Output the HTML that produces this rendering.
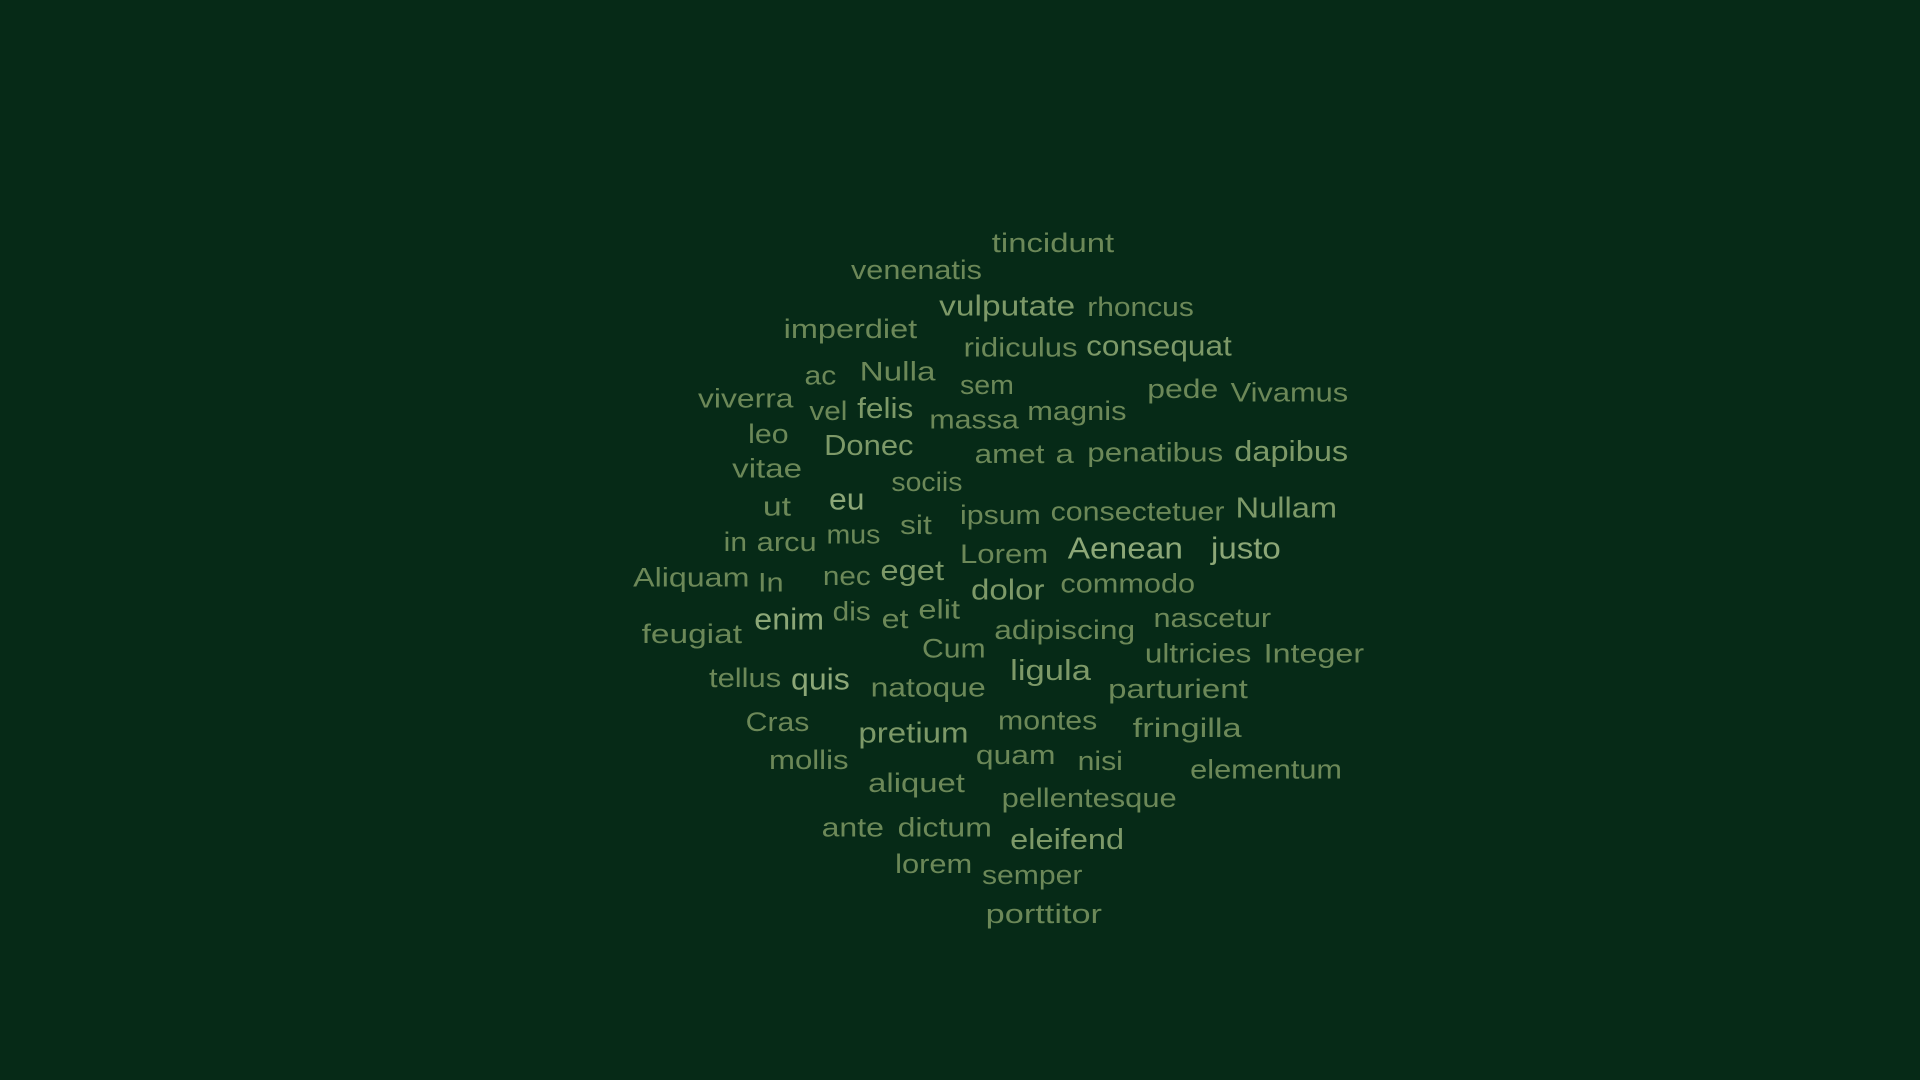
<!DOCTYPE html>
<html><head><meta charset="utf-8"><style>
html,body{margin:0;padding:0;background:#062a17;}
svg{display:block}
text{font-family:"Liberation Sans",sans-serif;}
</style></head><body>
<svg id="cloud" width="1920" height="1080" viewBox="0 0 1920 1080">
<rect width="1920" height="1080" fill="#062a17"/>
<g id="words"></g>
</svg>
<script>
const words=["tincidunt","venenatis","vulputate","rhoncus","imperdiet","ridiculus","consequat","ac","Nulla","sem","pede","Vivamus","viverra","vel","felis","massa","magnis","leo","Donec","amet","a","penatibus","dapibus","vitae","sociis","ut","eu","ipsum","consectetuer","Nullam","in","arcu","mus","sit","Lorem","Aenean","justo","Aliquam","In","nec","eget","dolor","commodo","feugiat","enim","dis","et","elit","adipiscing","nascetur","Cum","ultricies","Integer","tellus","quis","natoque","ligula","parturient","Cras","pretium","montes","fringilla","mollis","quam","nisi","elementum","aliquet","pellentesque","ante","dictum","eleifend","lorem","semper","porttitor"];
const weights=[1,1,2,1,1,1,2,1,1,1,1,1,1,1,2,1,1,1,2,1,1,1,2,1,1,1,3,1,1,2,1,1,1,1,1,3,3,1,1,1,2,2,1,1,3,1,1,1,1,1,1,1,1,1,3,1,2,1,1,2,1,1,1,1,1,1,1,1,1,1,2,1,1,1];
// layout boxes in reference display units (left, right, vertical center)
const boxes=[[810,910,198],[695,802,220],[767,878,249],[888,975,250],[640,749,268],[787,880,283],[887,1006,282],[657,683,306],[702,764,303],[784,828,314],[937,995,317],[1005,1101,320],[570,648,325],[661,692,335],[700,746,333],[759,832,342],[839,920,335],[611,644,354],[673,746,363],[796,853,370],[862,877,370],[888,999,369],[1008,1101,368],[598,655,382],[728,786,393],[623,646,413],[677,706,407],[784,850,420],[858,1000,417],[1009,1092,414],[591,610,442],[618,667,442],[675,719,436],[735,761,428],[784,856,452],[872,966,447],[989,1046,447],[517,612,471],[619,640,475],[672,711,470],[719,771,465],[793,853,481],[866,976,476],[524,606,517],[616,673,505],[680,711,499],[720,742,505],[750,784,497],[812,927,514],[942,1038,504],[753,805,529],[935,1022,533],[1032,1114,533],[579,638,553],[646,694,554],[711,805,561],[825,891,547],[905,1019,562],[609,661,589],[701,791,598],[815,896,588],[925,1014,594],[628,693,620],[797,862,616],[880,917,621],[972,1096,628],[709,788,639],[818,961,651],[671,722,675],[733,810,675],[825,918,685],[731,794,705],[802,884,714],[805,900,746]];
const k=1920/1568;
const sizeFor=w=>w===3?31:(w===2?29:27);
const colorFor=w=>w===3?"#8ca777":(w===2?"#7d9968":"#6c8858");
const g=document.getElementById('words');
words.forEach((w,i)=>{
  const b=boxes[i];const wt=weights[i];const fs=sizeFor(wt);
  const t=document.createElementNS('http://www.w3.org/2000/svg','text');
  
  
  t.setAttribute('x',(b[0]*k).toFixed(1));
  t.setAttribute('y',(b[2]*k+fs*0.36).toFixed(1));
  t.setAttribute('font-size',fs);
  t.setAttribute('fill',colorFor(wt));
  t.setAttribute('textLength',((b[1]-b[0])*k).toFixed(1));
  t.setAttribute('lengthAdjust','spacingAndGlyphs');
  t.textContent=w;
  g.appendChild(t);
});
</script>
</body></html>
